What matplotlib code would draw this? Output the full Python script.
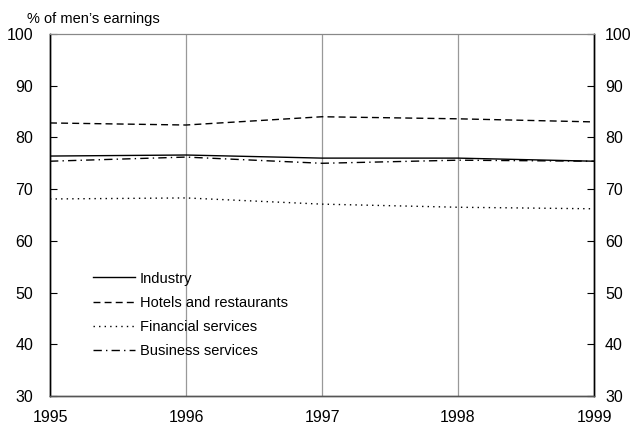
import matplotlib
matplotlib.use("Agg")
import matplotlib.pyplot as plt

plt.rcParams['font.family'] = ['Liberation Sans', 'DejaVu Sans']

years = [1995, 1996, 1997, 1998, 1999]
industry = [76.4, 76.6, 76.0, 76.0, 75.4]
hotels = [82.8, 82.4, 84.0, 83.6, 83.0]
financial = [68.1, 68.3, 67.1, 66.5, 66.2]
business = [75.4, 76.2, 75.0, 75.6, 75.4]
labels = ["Industry", "Hotels and restaurants", "Financial services", "Business services"]
yticks = [30, 40, 50, 60, 70, 80, 90, 100]

fig = plt.figure(figsize=(6.37, 4.26), dpi=100)
ax = fig.add_axes([50/637, 30/426, 544/637, 362/426])

ax.plot(years, industry, color='black', lw=1.0, ls='-', label=labels[0])
ax.plot(years, hotels, color='black', lw=1.0, ls=(0, (5, 3)), label=labels[1])
ax.plot(years, financial, color='black', lw=1.0, ls=(0, (1, 3)), label=labels[2])
ax.plot(years, business, color='black', lw=1.0, ls=(0, (6, 3, 1, 3)), label=labels[3])

ax.set_xlim(1995, 1999)
ax.set_ylim(30, 100)
ax.set_yticks(yticks)
ax.set_xticks(years)
for x in years[1:-1]:
    ax.axvline(x, color='#999999', lw=0.9, zorder=0)

ax.tick_params(axis='y', direction='in', length=5, labelsize=11.5, left=True, right=False,
               labelleft=True, labelright=False, pad=12)
ax.tick_params(axis='x', length=0, labelsize=11.5, pad=10)

ax2 = ax.twinx()
ax2.set_ylim(30, 100)
ax2.set_yticks(yticks)
ax2.tick_params(axis='y', direction='in', length=5, labelsize=11.5, pad=8)
for a in (ax, ax2):
    for s in ['left', 'right', 'bottom']:
        a.spines[s].set_color('black')
        a.spines[s].set_linewidth(1.0)
    a.spines['top'].set_color('#888888')
    a.spines['bottom'].set_color('#555555')

fig.text(27/637, 1 - 19/426, "% of men\u2019s earnings", fontsize=10.5, va='center', ha='left')

ax.legend(loc='lower left', bbox_to_anchor=(37/544, 32/362), frameon=False, fontsize=10.5,
          handlelength=2.9, handletextpad=0.3, labelspacing=0.7, borderaxespad=0)

fig.savefig("out.png", dpi=100)
